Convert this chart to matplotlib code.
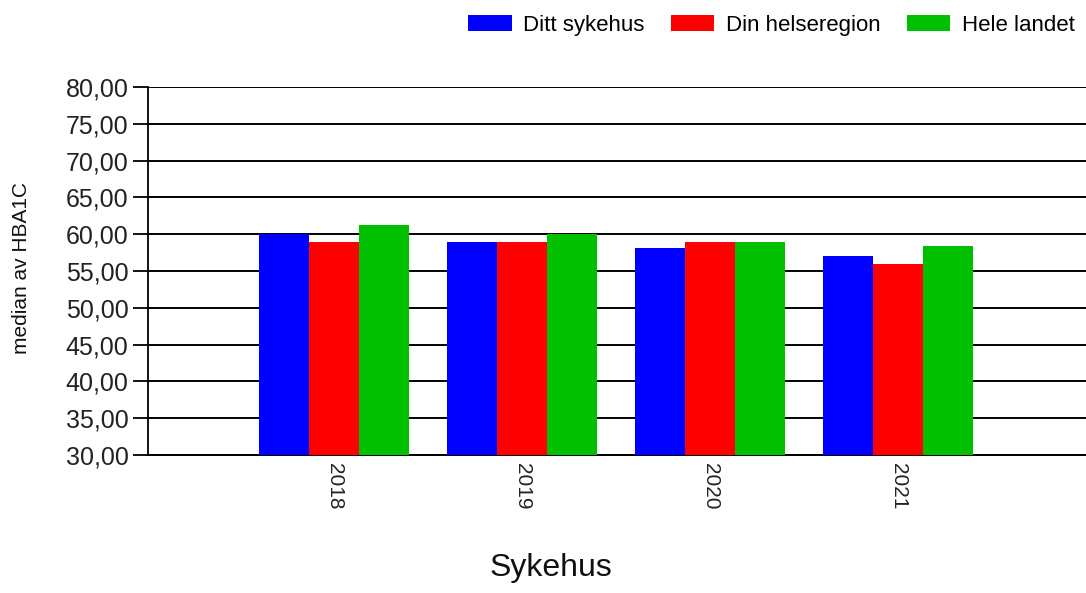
import matplotlib
matplotlib.use("Agg")
import matplotlib.pyplot as plt
import numpy as np

years = ["2018", "2019", "2020", "2021"]
series_names = ["Ditt sykehus", "Din helseregion", "Hele landet"]
ditt_sykehus = [60.0, 59.0, 58.1, 57.0]
din_helseregion = [59.0, 59.0, 59.0, 56.0]
hele_landet = [61.2, 60.0, 59.0, 58.4]
colors = ["#0000FF", "#FF0000", "#00C000"]
yticks = [30, 35, 40, 45, 50, 55, 60, 65, 70, 75, 80]

plt.rcParams["font.family"] = ["Liberation Sans", "DejaVu Sans"]

fig = plt.figure(figsize=(10.86, 5.93), dpi=100)
ax = fig.add_axes([148 / 1086, (593 - 455) / 593, 1 - 148 / 1086, (455 - 87) / 593])

x = np.arange(1, len(years) + 1)
w = 0.266
for i, (vals, name, c) in enumerate(zip([ditt_sykehus, din_helseregion, hele_landet], series_names, colors)):
    ax.bar(x + (i - 1) * w, [v - 30 for v in vals], w, bottom=30, color=c, label=name, zorder=3)

ax.set_xlim(0.01, 5)
ax.set_ylim(30, 80)
ax.set_yticks(yticks)
ax.set_yticklabels([f"{t:.2f}".replace(".", ",") for t in yticks], fontsize=18, color="#222222")
ax.set_xticks(x)
ax.set_xticklabels(years, rotation=270, fontsize=15, color="#222222")
ax.tick_params(axis="x", length=0, pad=6)
ax.tick_params(axis="y", length=11, width=1.3, direction="out", pad=3)

ax.grid(axis="y", color="black", linewidth=1.4, zorder=1)
for s in ["top", "right"]:
    ax.spines[s].set_visible(False)
ax.spines["left"].set_linewidth(1.3)
ax.spines["bottom"].set_linewidth(1.4)

fig.text(22 / 1086, 1 - 268 / 593, "median av HBA1C", fontsize=15, rotation=90,
         ha="center", va="center", color="#111111")
fig.text(551 / 1086, 1 - 568 / 593, "Sykehus", fontsize=23, ha="center", va="center", color="#111111")

fig.legend(loc="upper right", bbox_to_anchor=(1.008, 1.009), ncol=3, frameon=False,
           fontsize=16, handlelength=1.94, handleheight=0.77, columnspacing=1.2, handletextpad=0.52)

fig.savefig("out.png", dpi=100)
